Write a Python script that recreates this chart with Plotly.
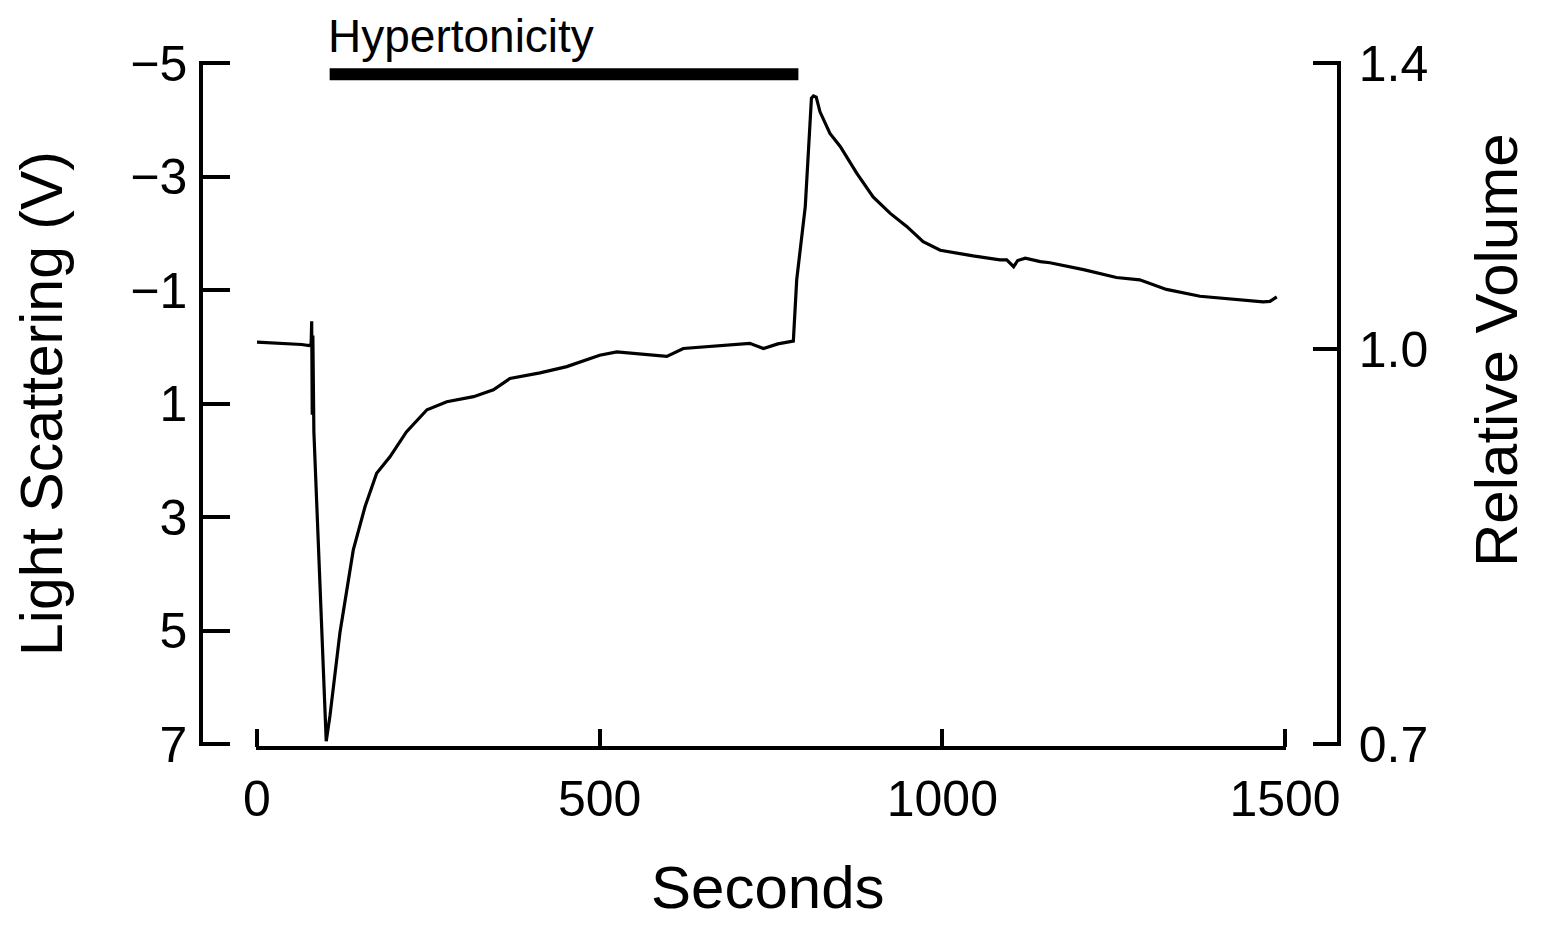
import plotly.graph_objects as go

# ---- data ----
time_s = [0, 25, 48, 65, 76, 79, 79.8, 80.6, 81.5, 83, 101, 106.5, 121, 140.5, 157.6,
          174.6, 194, 218, 248, 277, 316, 345, 369, 384, 413, 452, 500, 525, 550, 573,
          598, 622, 671, 719, 739, 760, 778, 782.6, 787.5, 800, 809, 812, 816, 821.5,
          836, 851, 875, 899, 924, 948, 972, 997, 1045, 1084, 1094, 1104, 1110, 1121,
          1143, 1157, 1206, 1254, 1288, 1327, 1376, 1425, 1468, 1478, 1488]
light_scattering_v = [-0.08, -0.07, -0.06, -0.04, -0.02, -0.05, -0.45, 1.2, -0.2, 1.5, 6.95,
                      6.5, 5.04, 3.58, 2.82, 2.23, 1.94, 1.5, 1.11, 0.97, 0.88, 0.76, 0.56,
                      0.53, 0.46, 0.35, 0.15, 0.09, 0.12, 0.15, 0.17, 0.03, -0.01, -0.06,
                      0.03, -0.05, -0.09, -0.1, -1.18, -2.47, -4.38, -4.42, -4.40, -4.14,
                      -3.76, -3.53, -3.06, -2.64, -2.35, -2.12, -1.85, -1.70, -1.60, -1.53,
                      -1.53, -1.41, -1.52, -1.56, -1.50, -1.48, -1.36, -1.22, -1.18, -1.01,
                      -0.89, -0.84, -0.79, -0.80, -0.88]

x_ticks = [0, 500, 1000, 1500]
ls_ticks = [-5, -3, -1, 1, 3, 5, 7]
volume_tick_labels = ["1.4", "1.0", "0.7"]
volume_tick_positions = [-5, 0.04, 7]   # where they sit on the light-scattering scale

stimulus_label = "Hypertonicity"
stimulus_start_s = 106
stimulus_end_s = 790
stimulus_level = -4.8

# page has an 8px body margin; figure sized so the page does not overflow
OFF = 8
W, H = 1541 - 2 * OFF, 932 - 2 * OFF
FONT = "Liberation Sans, Arial, Helvetica, sans-serif"

def fx(px):
    return (px - OFF) / W

def fy(py):
    return 1 - (py - OFF) / H

# small padding so the end ticks are not clipped away by plotly
X_PAD, Y_PAD = 2, 0.04
x_range = [x_ticks[0] - X_PAD, x_ticks[-1] + X_PAD]
y_range = [ls_ticks[-1] + Y_PAD, ls_ticks[0] - Y_PAD]

# pixel frame of the reference
X0_PX, X1_PX = 257, 1285        # x = 0 and x = 1500
YT_PX, YB_PX = 63, 744          # y = -5 and y = 7
sx = (X1_PX - X0_PX) / (x_ticks[-1] - x_ticks[0])
sy = (YB_PX - YT_PX) / (ls_ticks[-1] - ls_ticks[0])

fig = go.Figure()
fig.add_trace(go.Scatter(x=time_s, y=light_scattering_v, mode="lines",
                         line=dict(color="black", width=3.2), showlegend=False,
                         hoverinfo="skip"))
fig.add_trace(go.Scatter(x=[None], y=[None], xaxis="x3", yaxis="y", showlegend=False,
                         hoverinfo="skip"))
fig.add_trace(go.Scatter(x=[None], y=[None], yaxis="y2", showlegend=False,
                         hoverinfo="skip"))

fig.add_shape(type="line", xref="x", yref="y", x0=stimulus_start_s, x1=stimulus_end_s,
              y0=stimulus_level, y1=stimulus_level, line=dict(color="black", width=12))

axis_common = dict(showgrid=False, zeroline=False, showline=True, linecolor="black",
                   linewidth=3.5, ticks="inside", tickcolor="black", tickwidth=3.5,
                   automargin=False,
                   tickfont=dict(family=FONT, size=50, color="black"))

y_dom = [fy(YB_PX + Y_PAD * sy), fy(YT_PX - Y_PAD * sy)]

fig.update_layout(
    template="none",
    width=W, height=H,
    margin=dict(l=0, r=0, t=0, b=0, pad=0),
    paper_bgcolor="white", plot_bgcolor="rgba(0,0,0,0)",
    xaxis=dict(domain=[fx(X0_PX - X_PAD * sx), fx(X1_PX + X_PAD * sx)], range=x_range,
               tickvals=x_ticks, ticklen=18, ticklabelstandoff=6, anchor="y",
               **axis_common),
    xaxis3=dict(domain=[fx(203), fx(1339)], visible=False, range=[0, 1],
                showgrid=False, zeroline=False, anchor="y"),
    yaxis=dict(domain=y_dom, range=y_range, tickvals=ls_ticks,
               ticktext=[("\u2212" + str(-v)) if v < 0 else str(v) for v in ls_ticks],
               ticklen=27, anchor="x3", ticklabelstandoff=2,
               **axis_common),
    yaxis2=dict(overlaying="y", side="right", range=y_range,
                tickvals=volume_tick_positions, ticktext=volume_tick_labels,
                ticklen=24, anchor="free", position=fx(1339), ticklabelstandoff=8,
                **axis_common),
    annotations=[
        dict(text="Seconds", xref="paper", yref="paper", x=fx(768), y=fy(887),
             showarrow=False, xanchor="center", yanchor="middle",
             font=dict(family=FONT, size=60, color="black")),
        dict(text="Light Scattering (V)", xref="paper", yref="paper", x=fx(42), y=fy(404),
             textangle=-90, showarrow=False, xanchor="center", yanchor="middle",
             font=dict(family=FONT, size=59, color="black")),
        dict(text="Relative Volume", xref="paper", yref="paper", x=fx(1496), y=fy(350),
             textangle=-90, showarrow=False, xanchor="center", yanchor="middle",
             font=dict(family=FONT, size=60, color="black")),
        dict(text=stimulus_label, xref="x", yref="paper", x=stimulus_start_s, y=fy(36),
             showarrow=False, xanchor="left", yanchor="middle", xshift=-4,
             font=dict(family=FONT, size=46, color="black")),
    ],
)

fig.write_html("out.html")
